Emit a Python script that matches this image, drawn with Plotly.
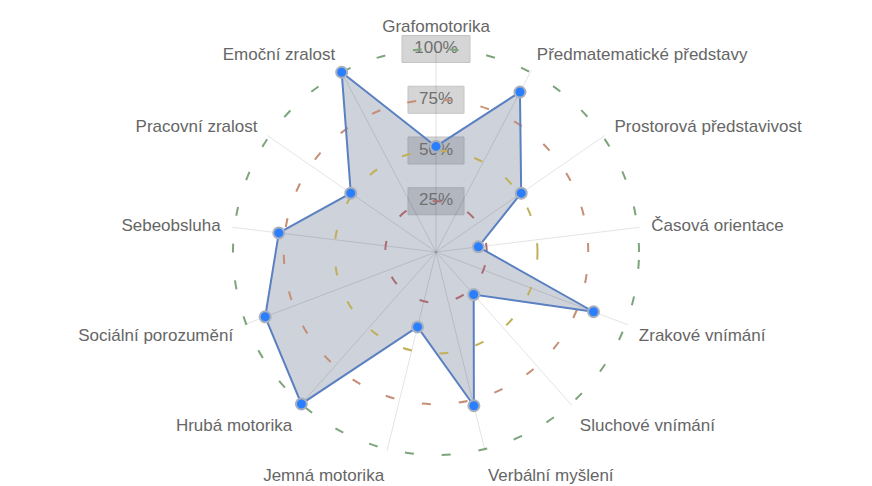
import plotly.graph_objects as go

categories = ["Grafomotorika", "Předmatematické představy", "Prostorová představivost",
              "Časová orientace", "Zrakové vnímání", "Sluchové vnímání", "Verbální myšlení",
              "Jemná motorika", "Hrubá motorika", "Sociální porozumění", "Sebeobsluha",
              "Pracovní zralost", "Emoční zralost"]
values = [52, 89, 51, 21, 83, 28, 78, 38, 100, 90, 78, 51, 100]
tick_vals = [25, 50, 75, 100]
tick_text = ["25%", "50%", "75%", "100%"]
ring_colors = ["rgb(172,108,115)", "rgb(192,176,88)", "rgb(198,142,118)", "rgb(125,165,125)"]

# page has an 8px body margin, so the figure is drawn 8px in from the window edge
OFF = 8
W, H = 872 - OFF, 486 - OFF
CX, CY = 436 - OFF, 252 - OFF
R100 = 203                      # pixel radius of the 100% ring
RMAX = 101                      # radial range max (so the 100% ring is drawn as a grid line)
R = R100 * RMAX / 100
dom_x = [(CX - R) / W, (CX + R) / W]
dom_y = [1 - (CY + R) / H, 1 - (CY - R) / H]

fig = go.Figure()

base_ang = dict(type="category", categoryorder="array", categoryarray=categories,
                direction="clockwise", rotation=90, showline=False)
label_font = dict(family="Liberation Sans, Arial, sans-serif", size=17, color="#666666")

# base polar: category labels, tick label text, polygon fill
fig.add_trace(go.Scatterpolar(r=values, theta=categories, mode="none", fill="toself",
                              fillcolor="rgba(105,118,145,0.33)", hoverinfo="skip",
                              subplot="polar", showlegend=False))
fig.add_trace(go.Scatterpolar(r=tick_vals, theta=[categories[0]] * len(tick_vals),
                              mode="text", text=tick_text, textposition="middle center",
                              textfont=dict(family="Liberation Sans, Arial, sans-serif",
                                            size=17, color="#707070"),
                              cliponaxis=False, hoverinfo="skip", subplot="polar",
                              showlegend=False))

layout = dict(
    polar=dict(domain=dict(x=dom_x, y=dom_y), bgcolor="rgba(0,0,0,0)",
               angularaxis=dict(**base_ang, showgrid=False, tickfont=label_font,
                                ticks="outside", ticklen=8, tickcolor="rgba(0,0,0,0)"),
               radialaxis=dict(range=[0, RMAX], showgrid=False, showticklabels=False,
                               showline=False, ticks=""))
)

for i, (tv, col) in enumerate(zip(tick_vals, ring_colors)):
    name = "polar%d" % (i + 2)
    last = i == len(tick_vals) - 1
    if last:
        fig.add_trace(go.Scatterpolar(r=values + [values[0]], theta=categories + [categories[0]],
                                      mode="lines+markers",
                                      line=dict(color="#5a80c2", width=2),
                                      marker=dict(size=11, color="#2a7fff",
                                                  line=dict(color="#a9b0bd", width=2)),
                                      cliponaxis=False, subplot=name, showlegend=False,
                                      hovertemplate="%{theta}: %{r}%<extra></extra>"))
    else:
        fig.add_trace(go.Scatterpolar(r=[0] * len(categories), theta=categories, mode="markers",
                                      marker=dict(size=1, opacity=0), hoverinfo="skip",
                                      subplot=name, showlegend=False))
    layout[name] = dict(
        domain=dict(x=dom_x, y=dom_y), bgcolor="rgba(0,0,0,0)",
        angularaxis=dict(**base_ang, showticklabels=False, ticks="",
                         showgrid=(i == 0), gridcolor="rgba(0,0,0,0.11)", gridwidth=1),
        radialaxis=dict(range=[0, RMAX], tickvals=[tv], showgrid=True, gridcolor=col,
                        gridwidth=2, griddash="9px,28px", showticklabels=False,
                        showline=False, ticks=""))

# backdrop boxes behind the radial tick labels
shapes = []
for tv, tt in zip(tick_vals, tick_text):
    bw = 68 if len(tt) == 4 else 56
    bh = 27
    ypx = CY - R100 * tv / 100
    shapes.append(dict(type="rect", xref="paper", yref="paper", layer="below",
                       x0=(CX - bw / 2) / W, x1=(CX + bw / 2) / W,
                       y0=1 - (ypx + bh / 2) / H, y1=1 - (ypx - bh / 2) / H,
                       fillcolor="#d5d5d5", line=dict(color="#c4c4c4", width=1)))

fig.update_layout(**layout)
fig.update_layout(width=W, height=H, margin=dict(l=0, r=0, t=0, b=0),
                  paper_bgcolor="white", plot_bgcolor="white", shapes=shapes,
                  showlegend=False)

fig.write_html("out.html")
